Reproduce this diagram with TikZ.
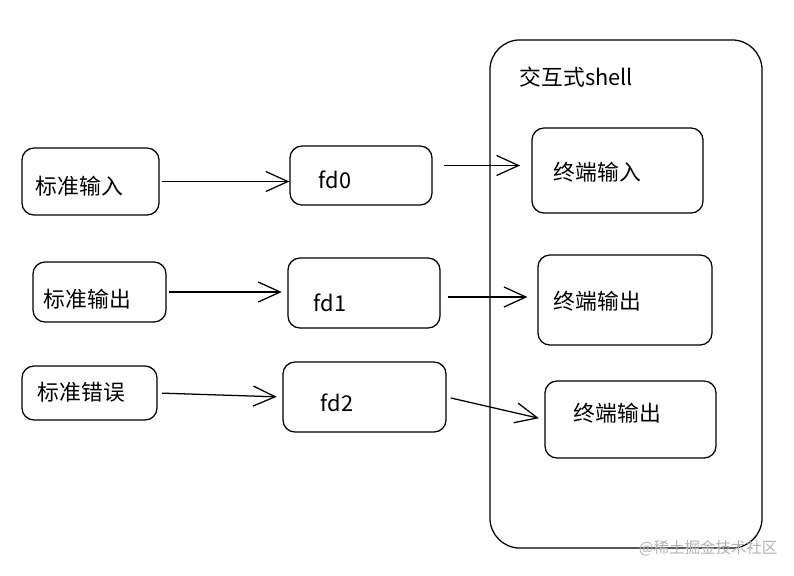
\documentclass[tikz,border=0pt]{standalone}
\usepackage{fontspec}
\setmainfont{Noto Sans CJK SC}
\usetikzlibrary{arrows.meta,positioning}

\begin{document}
\begin{tikzpicture}[
    x=0.025cm,y=-0.025cm,
    line width=0.9pt,
    nd/.style={draw,rounded corners=3mm,inner sep=0pt},
    big/.style={draw,rounded corners=7.5mm,inner sep=0pt},
    txt/.style={anchor=west,inner sep=0pt,font=\fontsize{15.5}{18}\selectfont},
    con/.style={-{Straight Barb[length=5.5mm,width=5mm]},line width=0.9pt}]
  \useasboundingbox (0,0) rectangle (794,575);
  % left column
  \node[nd,minimum width=3.425cm,minimum height=1.675cm] (in) at (90.5,181.5) {};
  \node[nd,minimum width=3.325cm,minimum height=1.5cm] (out) at (99.5,292) {};
  \node[nd,minimum width=3.375cm,minimum height=1.35cm] (err) at (89.5,393) {};
  \node[txt] (tIn) at (35,186) {标准输入};
  \node[txt] (tOut) at (43,299) {标准输出};
  \node[txt] (tErr) at (37,392) {标准错误};
  % file descriptors
  \node[nd,minimum width=3.55cm,minimum height=1.475cm] (fd0) at (361,175.5) {};
  \node[nd,minimum width=3.8cm,minimum height=1.75cm] (fd1) at (364,293) {};
  \node[nd,minimum width=4.075cm,minimum height=1.75cm] (fd2) at (364.5,397) {};
  \node[txt] (tFd0) at (318,180) {fd0};
  \node[txt] (tFd1) at (313,303) {fd1};
  \node[txt] (tFd2) at (320,403) {fd2};
  % shell
  \node[big,minimum width=6.8cm,minimum height=12.7cm] (sh) at (626,294) {};
  \node[txt] (tSh) at (519,77) {交互式shell};
  \node[nd,minimum width=4.275cm,minimum height=2.125cm] (tin) at (617.5,170.5) {};
  \node[nd,minimum width=4.35cm,minimum height=2.25cm] (tout) at (625,300) {};
  \node[nd,minimum width=4.275cm,minimum height=1.925cm] (terr) at (630.5,419.5) {};
  \node[txt] (tTin) at (553,172) {终端输入};
  \node[txt] (tTout) at (553,301) {终端输出};
  \node[txt] (tTerr) at (573,413) {终端输出};
  \node[anchor=east,inner sep=0pt,text=black!30,font=\fontsize{11}{12}\selectfont]
    (wm) at (778,548) {@稀土掘金技术社区};
  % arrows
  \draw[con,shorten <=2pt] (in.east) -- (in.east -| fd0.west);
  \draw[con,shorten <=2pt,shorten >=4pt] (out.east) -- (out.east -| fd1.west);
  \draw[con,shorten <=3pt,shorten >=4pt] (err.east) -- (fd2.west);
  \draw[con,shorten <=8pt,shorten >=8pt] ([yshift=2.5mm]fd0.east) -- ([yshift=2.5mm]fd0.east -| tin.west);
  \draw[con,shorten <=5pt,shorten >=7pt] ([yshift=-1mm]fd1.east) -- ([yshift=-1mm]fd1.east -| tout.west);
  \draw[con,shorten <=3pt,shorten >=4pt] (fd2.east) -- (terr.west);
\end{tikzpicture}
\end{document}
